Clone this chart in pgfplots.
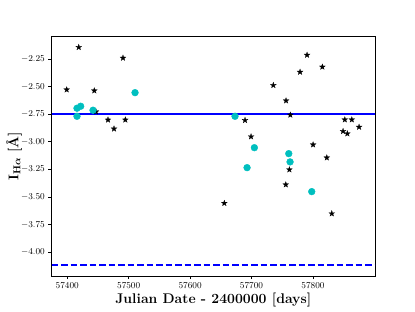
\documentclass[border=0pt]{standalone}
\usepackage{amsmath}
\usepackage{pgfplots}
\pgfplotsset{compat=1.18}
\definecolor{mplc}{rgb}{0,0.75,0.75}
\pgfdeclareplotmark{fstar}{%
  \pgfpathmoveto{\pgfpointpolar{90}{\pgfplotmarksize}}%
  \pgfpathlineto{\pgfpointpolar{126}{0.4\pgfplotmarksize}}%
  \pgfpathlineto{\pgfpointpolar{162}{\pgfplotmarksize}}%
  \pgfpathlineto{\pgfpointpolar{198}{0.4\pgfplotmarksize}}%
  \pgfpathlineto{\pgfpointpolar{234}{\pgfplotmarksize}}%
  \pgfpathlineto{\pgfpointpolar{270}{0.4\pgfplotmarksize}}%
  \pgfpathlineto{\pgfpointpolar{306}{\pgfplotmarksize}}%
  \pgfpathlineto{\pgfpointpolar{342}{0.4\pgfplotmarksize}}%
  \pgfpathlineto{\pgfpointpolar{18}{\pgfplotmarksize}}%
  \pgfpathlineto{\pgfpointpolar{54}{0.4\pgfplotmarksize}}%
  \pgfpathclose
  \pgfusepathqfillstroke}
\begin{document}
\begin{tikzpicture}
\path[use as bounding box] (0pt,0pt) rectangle (415pt,311pt);
\begin{axis}[
  at={(51.5pt,35pt)}, anchor=south west,
  scale only axis, width=323.5pt, height=240pt,
  xmin=57374.3, xmax=57901, ymin=-4.215, ymax=-2.042,
  xtick={57400,57500,57600,57700,57800},
  ytick={-4,-3.75,-3.5,-3.25,-3,-2.75,-2.5,-2.25},
  scaled x ticks=false,
  xtick pos=bottom, ytick pos=left,
  tick align=outside,
  major tick length=3.2pt,
  tick style={black, line width=0.7pt},
  axis line style={black, line width=0.7pt},
  ticklabel style={font=\fontsize{9}{10}\selectfont},
  x tick label style={/pgf/number format/1000 sep={}},
  y tick label style={/pgf/number format/.cd, fixed, fixed zerofill, precision=2},
  xlabel={\textbf{Julian Date - 2400000 [days]}},
  ylabel={\textbf{I}$_{\mathbf{H}\boldsymbol{\alpha}}$ \textbf{[\AA]}},
  label style={font=\fontsize{14}{16}\selectfont},
  xlabel style={at={(axis description cs:0.5,-0.1)}, anchor=center},
  ylabel style={at={(axis description cs:-0.116,0.5)}, anchor=center},
  clip=true,
]
\addplot[only marks, mark=fstar, mark size=3.1pt, black, mark options={line width=0.2pt}] coordinates {
(57399,-2.528) (57418.6,-2.144) (57444,-2.537) (57446.7,-2.727)
(57466.3,-2.801) (57476.1,-2.882) (57490.7,-2.241) (57494.5,-2.801)
(57655.7,-3.556) (57689.4,-2.805) (57699.2,-2.953) (57735.5,-2.488)
(57755.7,-3.388) (57756.2,-2.6275) (57761.6,-3.252) (57763.2,-2.757)
(57779.0,-2.368) (57790.4,-2.214) (57800.2,-3.026) (57815.3,-2.322)
(57822.5,-3.144) (57830.6,-3.650) (57849.0,-2.9045) (57851.8,-2.7995)
(57856.0,-2.926) (57863.2,-2.7995) (57875.1,-2.866)
};
\addplot[only marks, mark=*, mark size=3.4pt, color=mplc, mark options={draw=mplc, fill=mplc}] coordinates {
(57415.8,-2.696) (57421.8,-2.678) (57415.8,-2.769) (57441.9,-2.714)
(57510.3,-2.555) (57673.1,-2.769) (57704.6,-3.053) (57760.6,-3.107)
(57762.7,-3.182) (57692.7,-3.234) (57798.0,-3.451)
};
\addplot[draw=blue, line width=1.8pt, mark=none] coordinates {(57374.3,-2.751) (57901,-2.751)};
\addplot[draw=blue, line width=1.8pt, mark=none, dash pattern=on 6.5pt off 3pt] coordinates {(57374.3,-4.118) (57901,-4.118)};
\end{axis}
\end{tikzpicture}
\end{document}
